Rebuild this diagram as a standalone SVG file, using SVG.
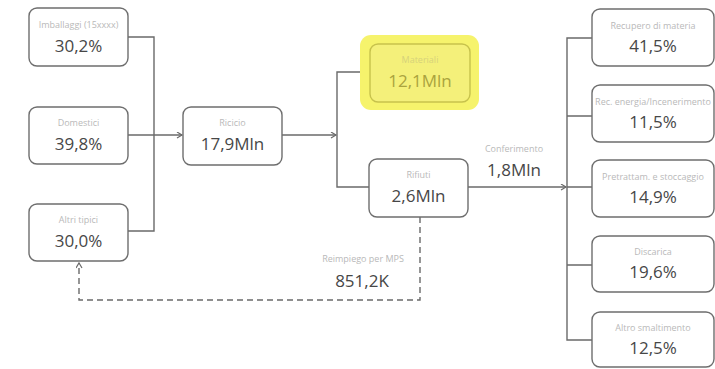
<svg xmlns="http://www.w3.org/2000/svg" width="715" height="369" viewBox="0 0 715 369">
<defs>
<style>
.box{fill:#fff;stroke:#6e6e6e;stroke-width:1.4}
.lbl{font-family:"Open Sans","Noto Sans",sans-serif;font-size:9px;fill:#b9b9b9;text-anchor:middle}
.val{font-family:"Open Sans","Noto Sans",sans-serif;font-size:17px;fill:#474747;text-anchor:middle}
.ln{fill:none;stroke:#6a6a6a;stroke-width:1.4}
.dash{fill:none;stroke:#6a6a6a;stroke-width:1.4;stroke-dasharray:6,4}
</style>
<marker id="arr" markerWidth="8" markerHeight="8" refX="6" refY="3" orient="auto" markerUnits="userSpaceOnUse">
<path d="M1,0 L6,3 L1,6" fill="none" stroke="#6a6a6a" stroke-width="1.2"/>
</marker>
</defs>
<rect width="715" height="369" fill="#fff"/>
<g id="connectors">
<path class="ln" d="M128,37 H154 V231 H128"/>
<path class="ln" d="M128,135 H182" marker-end="url(#arr)"/>
<path class="ln" d="M282,135 H336" marker-end="url(#arr)"/>
<path class="ln" d="M370,72 H337 V187 H369"/>
<path class="ln" d="M468,187 H566" marker-end="url(#arr)"/>
<path class="ln" d="M592,38 H567 V340 H592 M567,116 H592 M567,265 H592 M567,187 H592"/>
<path class="dash" d="M420,217 V300 H79 V263" marker-end="url(#arr)"/>
<text class="lbl" x="514" y="152">Conferimento</text>
<text class="val" x="514" y="176">1,8Mln</text>
<text class="lbl" x="363" y="262">Reimpiego per MPS</text>
<text class="val" x="362" y="287">851,2K</text>
</g>
<g id="imballaggi">
<rect class="box" x="29" y="8" width="99" height="58" rx="8"/>
<text class="lbl" x="78.5" y="28">Imballaggi (15xxxx)</text>
<text class="val" x="78.5" y="52">30,2%</text>
</g>
<g id="domestici">
<rect class="box" x="29" y="107" width="99" height="57" rx="8"/>
<text class="lbl" x="78.5" y="126">Domestici</text>
<text class="val" x="78.5" y="150">39,8%</text>
</g>
<g id="altri-tipici">
<rect class="box" x="29" y="204" width="99" height="57" rx="8"/>
<text class="lbl" x="78.5" y="223">Altri tipici</text>
<text class="val" x="78.5" y="247">30,0%</text>
</g>
<g id="ricicio">
<rect class="box" x="183" y="107" width="99" height="58" rx="8"/>
<text class="lbl" x="232.5" y="126">Ricicio</text>
<text class="val" x="232.5" y="150">17,9Mln</text>
</g>
<g id="materiali">
<rect x="360" y="35" width="119" height="75" rx="11" fill="#f6f36c"/>
<rect x="370" y="44" width="100" height="58" rx="8" fill="#f4f07a" stroke="#c7c24c" stroke-width="1.4"/>
<text class="lbl" x="420" y="63" style="fill:#d6d27a">Materiali</text>
<text class="val" x="420" y="87" style="fill:#aaa33e">12,1Mln</text>
</g>
<g id="rifiuti">
<rect class="box" x="369" y="159" width="99" height="58" rx="8"/>
<text class="lbl" x="418.5" y="178">Rifiuti</text>
<text class="val" x="418.5" y="202">2,6Mln</text>
</g>
<g id="recupero-materia">
<rect class="box" x="592" y="9" width="122" height="57" rx="8"/>
<text class="lbl" x="653" y="29">Recupero di materia</text>
<text class="val" x="653" y="52">41,5%</text>
</g>
<g id="rec-energia">
<rect class="box" x="592" y="85" width="122" height="57" rx="8"/>
<text class="lbl" x="653" y="105">Rec. energia/Incenerimento</text>
<text class="val" x="653" y="128">11,5%</text>
</g>
<g id="pretrattam">
<rect class="box" x="592" y="160" width="122" height="57" rx="8"/>
<text class="lbl" x="653" y="180">Pretrattam. e stoccaggio</text>
<text class="val" x="653" y="203">14,9%</text>
</g>
<g id="discarica">
<rect class="box" x="592" y="236" width="122" height="56" rx="8"/>
<text class="lbl" x="653" y="255">Discarica</text>
<text class="val" x="653" y="278">19,6%</text>
</g>
<g id="altro-smaltimento">
<rect class="box" x="592" y="312" width="122" height="55" rx="8"/>
<text class="lbl" x="653" y="331">Altro smaltimento</text>
<text class="val" x="653" y="354">12,5%</text>
</g>
</svg>
